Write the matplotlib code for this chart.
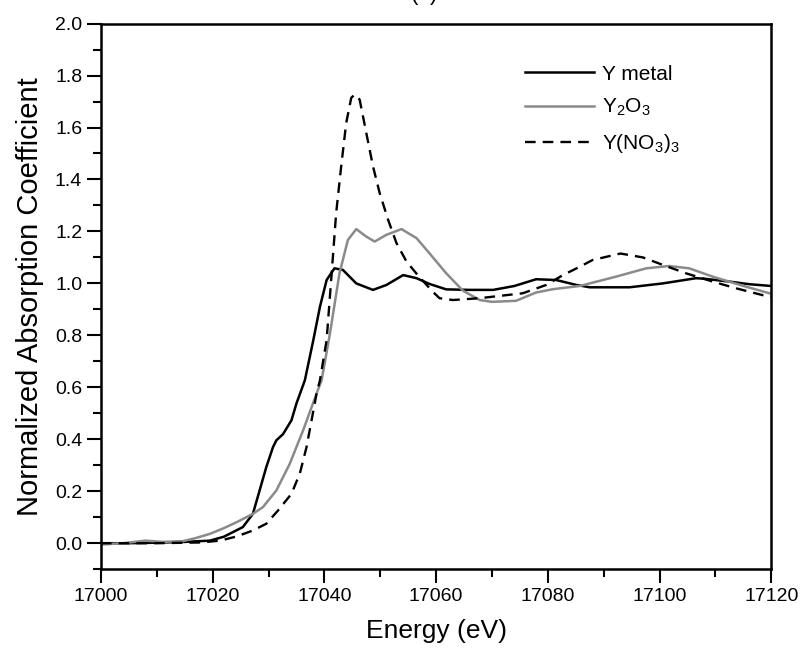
import matplotlib
matplotlib.use('Agg')
import matplotlib.pyplot as plt
from matplotlib.ticker import MultipleLocator

plt.rcParams['font.family'] = ['Liberation Sans', 'DejaVu Sans']
plt.rcParams['mathtext.fontset'] = 'custom'
plt.rcParams['mathtext.rm'] = 'Liberation Sans'
plt.rcParams['mathtext.it'] = 'Liberation Sans:italic'

# Y metal (solid black)
e_metal = [17000, 17005, 17010, 17015, 17019.5, 17022, 17025.4, 17027.2, 17028.4,
           17029.6, 17030.8, 17031.4, 17032.6, 17034.1, 17035, 17036.5, 17038,
           17039.2, 17040.4, 17041.8, 17043.3, 17045.7, 17048.7, 17051.1, 17054.1,
           17056.5, 17058.8, 17061.8, 17066, 17070.2, 17074, 17077.9, 17081.5,
           17085.1, 17087.5, 17094.6, 17100.6, 17106.5, 17108, 17112.5, 17116, 17120]
mu_metal = [0.0, 0.0, 0.002, 0.005, 0.01, 0.025, 0.062, 0.113, 0.203,
            0.293, 0.37, 0.396, 0.42, 0.473, 0.538, 0.627, 0.78,
            0.91, 1.013, 1.058, 1.052, 1.0, 0.975, 0.994, 1.032,
            1.02, 0.998, 0.977, 0.975, 0.975, 0.99, 1.016, 1.013,
            0.994, 0.985, 0.985, 1.0, 1.02, 1.018, 1.007, 0.997, 0.99]

# Y2O3 (grey)
e_oxide = [17000, 17004, 17008, 17011, 17014.7, 17017, 17019.5, 17022, 17024.3,
           17027.2, 17029, 17031.4, 17033.8, 17036.2, 17038.6, 17039.5, 17041,
           17042.7, 17044.2, 17045.7, 17047.5, 17049, 17051.1, 17053.8, 17056.5,
           17058.8, 17061.8, 17064.8, 17067.8, 17070, 17074.3, 17077.9, 17081,
           17085.7, 17092.2, 17097.6, 17101.7, 17105.3, 17109.5, 17115.5, 17120]
mu_oxide = [-0.005, 0.0, 0.01, 0.005, 0.008, 0.02, 0.036, 0.058, 0.081,
            0.113, 0.139, 0.203, 0.306, 0.435, 0.576, 0.627, 0.808,
            1.039, 1.167, 1.209, 1.18, 1.161, 1.187, 1.209, 1.174,
            1.116, 1.039, 0.972, 0.936, 0.929, 0.933, 0.965, 0.978,
            0.99, 1.026, 1.058, 1.067, 1.058, 1.026, 0.987, 0.96]

# Y(NO3)3 (dashed black)
e_nitrate = [17000, 17010, 17018, 17021.3, 17024.3, 17027.2, 17029.6, 17031.7,
             17034.1, 17035.6, 17036.8, 17037.7, 17038.6, 17039.2, 17040.4,
             17041.3, 17042.1, 17043, 17043.9, 17044.8, 17045.4, 17046.3, 17047.5,
             17048.7, 17049.9, 17051.4, 17052.9, 17054.7, 17056.7, 17059.4,
             17060.6, 17063, 17067.8, 17070.2, 17075.5, 17079.7, 17082.7, 17085.7,
             17088, 17093, 17097, 17100.6, 17104.7, 17109.5, 17113.7, 17118.4, 17120]
mu_nitrate = [0.0, 0.0, 0.003, 0.01, 0.026, 0.049, 0.075, 0.126,
              0.19, 0.268, 0.37, 0.473, 0.576, 0.627, 0.782,
              1.039, 1.27, 1.45, 1.617, 1.714, 1.727, 1.708, 1.579,
              1.45, 1.347, 1.245, 1.155, 1.084, 1.032, 0.968,
              0.943, 0.936, 0.943, 0.949, 0.962, 0.994, 1.032, 1.064,
              1.09, 1.115, 1.1, 1.071, 1.039, 1.007, 0.981, 0.955, 0.95]

fig = plt.figure(figsize=(8.01, 6.55), dpi=100)
ax = fig.add_axes([0.126, 0.131, 0.837, 0.833])

ax.plot(e_metal, mu_metal, color='black', lw=1.8, label='Y metal')
ax.plot(e_oxide, mu_oxide, color='#8a8a8a', lw=1.8, label='Y$_2$O$_3$')
ax.plot(e_nitrate, mu_nitrate, color='black', lw=1.7, dashes=(4.5, 3),
        label='Y(NO$_3$)$_3$')

ax.set_xlim(17000, 17120)
ax.set_ylim(-0.1, 2.0)
ax.xaxis.set_major_locator(MultipleLocator(20))
ax.xaxis.set_minor_locator(MultipleLocator(10))
ax.yaxis.set_major_locator(MultipleLocator(0.2))
ax.yaxis.set_minor_locator(MultipleLocator(0.1))
ax.yaxis.set_major_formatter(matplotlib.ticker.FormatStrFormatter('%.1f'))

ax.tick_params(which='both', direction='out', top=False, right=False,
               width=1.5, labelsize=14)
ax.tick_params(which='major', length=10)
ax.tick_params(which='minor', length=6)
for sp in ax.spines.values():
    sp.set_linewidth(1.8)

ax.set_xlabel('Energy (eV)', fontsize=19, labelpad=10)
ax.set_ylabel('Normalized Absorption Coefficient', fontsize=21, labelpad=8)

ax.legend(frameon=False, loc='upper left', bbox_to_anchor=(0.62, 0.94),
          fontsize=15, handlelength=3.3, handletextpad=0.4, labelspacing=0.65,
          borderaxespad=0)

fig.text(0.53, 1.0, '(a)', ha='center', va='baseline', fontsize=16)

fig.savefig('out.png', dpi=100)
